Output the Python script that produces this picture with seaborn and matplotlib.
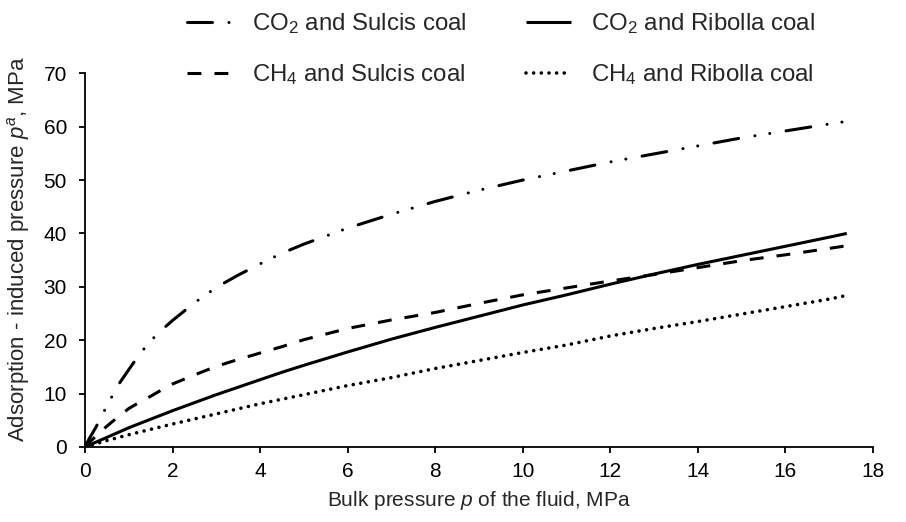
import matplotlib
matplotlib.use("Agg")
import matplotlib.pyplot as plt
import seaborn as sns

# Bulk pressure of the fluid (MPa) at which each curve is sampled
pressure = [0, 0.1, 0.25, 0.5, 0.75, 1, 1.25, 1.5, 1.75, 2, 2.5, 3, 3.5, 4, 4.5, 5,
            6, 7, 8, 9, 10, 11, 12, 13, 14, 15, 16, 17, 17.4]

# Adsorption-induced pressure (MPa) for each fluid / coal pair
co2_sulcis = [0, 1.6, 3.7, 7.7, 11.5, 14.5, 17.4, 19.9, 21.9, 23.7, 27.0, 29.9, 32.2, 34.3, 36.3, 38.0,
              41.0, 43.6, 46.0, 48.1, 50.0, 51.7, 53.4, 54.9, 56.4, 57.9, 59.2, 60.5, 61.0]
co2_ribolla = [0, 0.4, 0.9, 1.8, 2.7, 3.6, 4.4, 5.2, 6.0, 6.8, 8.3, 9.8, 11.2, 12.6, 14.0, 15.3,
               17.8, 20.2, 22.4, 24.5, 26.6, 28.5, 30.5, 32.4, 34.2, 35.9, 37.6, 39.3, 40.0]
ch4_sulcis = [0, 0.9, 2.0, 3.9, 5.6, 7.2, 8.4, 9.5, 10.7, 11.8, 13.5, 15.1, 16.4, 17.6, 18.8, 20.1,
              22.2, 23.8, 25.2, 26.9, 28.5, 29.8, 31.1, 32.3, 33.6, 34.9, 36.0, 37.2, 37.7]
ch4_ribolla = [0, 0.25, 0.6, 1.2, 1.75, 2.3, 2.8, 3.3, 3.8, 4.3, 5.25, 6.2, 7.15, 8.1, 8.95, 9.8,
               11.5, 13.0, 14.7, 16.2, 17.7, 19.1, 20.8, 22.2, 23.5, 24.9, 26.3, 27.7, 28.4]

labels = ["CO$_2$ and Sulcis coal", "CH$_4$ and Sulcis coal",
          "CO$_2$ and Ribolla coal", "CH$_4$ and Ribolla coal"]
x_ticks = [0, 2, 4, 6, 8, 10, 12, 14, 16, 18]
y_ticks = [0, 10, 20, 30, 40, 50, 60, 70]

sns.set_style("ticks")
plt.rcParams["font.family"] = ["Liberation Sans", "DejaVu Sans"]
plt.rcParams["mathtext.fontset"] = "custom"
plt.rcParams["mathtext.rm"] = "Liberation Sans"
plt.rcParams["mathtext.it"] = "Liberation Sans:italic"
plt.rcParams["mathtext.default"] = "regular"
plt.rcParams["lines.scale_dashes"] = False

fig = plt.figure(figsize=(9.06, 5.22), dpi=100)
ax = fig.add_axes([0.0938, 0.1437, 0.8698, 0.7159])

# (values, dash pattern in points or None for solid, cap style, line width)
series = [
    (co2_sulcis, (18, 11.9, 0.01, 10.8, 0.01, 11.9), "round", 2.2),
    (ch4_sulcis, (10, 9.4), "butt", 2.2),
    (co2_ribolla, None, "butt", 2.2),
    (ch4_ribolla, (0.01, 5.5), "round", 2.6),
]

handles = []
for (vals, dash, cap, lw), lab in zip(series, labels):
    sns.lineplot(x=pressure, y=vals, ax=ax, color="black", linewidth=lw,
                 legend=False, sort=False)
    line = ax.lines[-1]
    if dash is not None:
        line.set_dashes(dash)
    line.set_dash_capstyle(cap)
    line.set_solid_capstyle("butt")
    line.set_label(lab)
    handles.append(line)

ax.set_xlim(0, 18)
ax.set_ylim(0, 70)
ax.set_xticks(x_ticks)
ax.set_yticks(y_ticks)
sns.despine(ax=ax)
for side in ("left", "bottom"):
    ax.spines[side].set_linewidth(1.3)
    ax.spines[side].set_color("black")
ax.tick_params(direction="out", length=4, width=1.3, colors="black",
               labelsize=15, pad=7)
ax.tick_params(axis="y", pad=9)

ax.set_xlabel("Bulk pressure $\\mathit{p}$ of the fluid, MPa", fontsize=15)
ax.set_ylabel("Adsorption - induced pressure $\\mathit{p}^{\\mathit{a}}$, MPa", fontsize=16)
ax.xaxis.set_label_coords(0.5, -0.142)
ax.xaxis.label.set_va("center")
ax.yaxis.set_label_coords(-0.0838, 0.53)
ax.yaxis.label.set_va("center")

fig.legend(handles, labels, ncol=2, loc="upper left", bbox_to_anchor=(0.206, 0.978),
           frameon=False, fontsize=17.3, handlelength=1.87, handletextpad=0.83,
           columnspacing=2.5, labelspacing=1.08, borderpad=0, borderaxespad=0)

fig.savefig("out.png", dpi=100)
